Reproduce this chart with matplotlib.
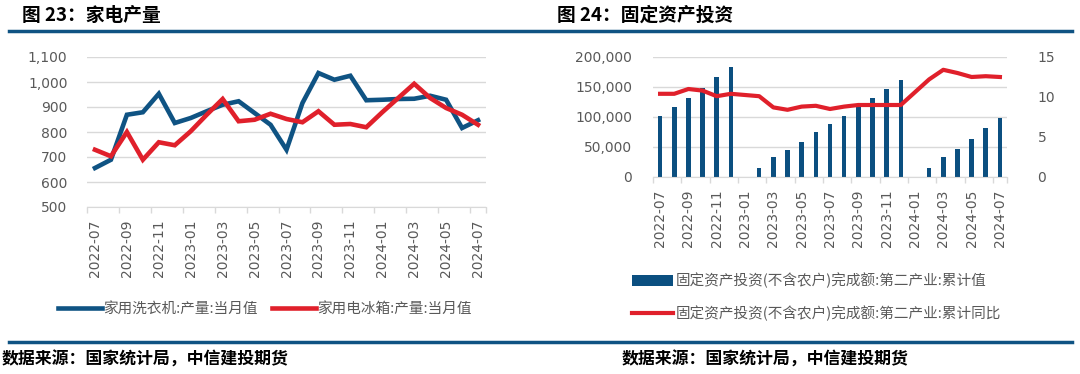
import numpy as np
import matplotlib
matplotlib.use("Agg")
import matplotlib.pyplot as plt
from matplotlib.lines import Line2D
from matplotlib.patches import Patch
from matplotlib.ticker import FuncFormatter, FixedLocator

plt.rcParams["font.family"] = ["Noto Sans CJK SC", "DejaVu Sans"]

months = [
    "2022-07", "2022-08", "2022-09", "2022-10", "2022-11", "2022-12",
    "2023-01", "2023-02", "2023-03", "2023-04", "2023-05", "2023-06",
    "2023-07", "2023-08", "2023-09", "2023-10", "2023-11", "2023-12",
    "2024-01", "2024-02", "2024-03", "2024-04", "2024-05", "2024-06",
    "2024-07",
]

# 家电产量 (万台)
washer = [656, 689, 869, 879, 953, 836, 856, 883, 909, 923, 876, 829,
          729, 916, 1036, 1009, 1025, 927, 929, 932, 933, 945, 929, 816, 847]
fridge = [729, 703, 800, 689, 759, 747, 803, 869, 932, 843, 849, 873,
          852, 839, 883, 829, 832, 819, 879, 936, 993, 936, 896, 869, 829]

# 固定资产投资 第二产业
fai_cum = [101100, 116100, 132200, 148900, 166100, 183900, np.nan, 15600,
           33900, 45000, 57800, 75000, 88900, 102200, 118900, 131700,
           146700, 161700, np.nan, 15600, 32800, 47200, 62800, 82200, 98300]
fai_yoy = [10.4, 10.4, 11.0, 10.8, 10.1, 10.4, np.nan, 10.1, 8.7, 8.4,
           8.8, 8.9, 8.5, 8.8, 9.0, 9.0, 9.0, 9.0, np.nan, 12.2, 13.4,
           13.0, 12.5, 12.6, 12.5]

BLUE = "#0f5383"
RED = "#e0202b"
BAR = "#0b4f80"
GRAY_TXT = "#595959"
GRID = "#d9d9d9"

W, H = 1080, 374
fig = plt.figure(figsize=(W / 100, H / 100), dpi=100)


def box(x0, y0, x1, y1):
    return [x0 / W, 1 - y1 / H, (x1 - x0) / W, (y1 - y0) / H]


def style_cat_axis(ax, n):
    ax.set_xlim(-0.5, n - 0.5)
    ax.set_xticks(range(0, n, 2))
    ax.set_xticklabels(months[::2], rotation=90, fontsize=10,
                       color=GRAY_TXT, family="DejaVu Sans")
    ax.xaxis.set_minor_locator(FixedLocator(list(np.arange(-0.5, n, 2)) + [n - 0.5]))
    ax.tick_params(axis="x", which="major", length=0, pad=9)
    ax.tick_params(axis="x", which="minor", length=4, color=GRID, width=1)
    for s in ["top", "left", "right"]:
        ax.spines[s].set_visible(False)
    ax.spines["bottom"].set_color(GRID)
    ax.grid(axis="y", color=GRID, linewidth=1)
    ax.set_axisbelow(True)


x = np.arange(len(months))
comma = FuncFormatter(lambda v, p: f"{v:,.0f}")

# ── 图23 家电产量 ────────────────────────────────────────────
ax1 = fig.add_axes(box(87, 57, 486, 207))
ax1.plot(x, washer, color=BLUE, lw=3.3, solid_joinstyle="miter", zorder=3)
ax1.plot(x, fridge, color=RED, lw=3.3, solid_joinstyle="miter", zorder=3)
ax1.set_ylim(500, 1100)
ax1.set_yticks(range(500, 1101, 100))
ax1.yaxis.set_major_formatter(comma)
ax1.tick_params(axis="y", length=0, pad=14, labelsize=10, labelcolor=GRAY_TXT)
for lab in ax1.get_yticklabels():
    lab.set_family("DejaVu Sans")
style_cat_axis(ax1, len(months))

fig.legend(
    handles=[Line2D([], [], color=BLUE, lw=3.3),
             Line2D([], [], color=RED, lw=3.3)],
    labels=["家用洗衣机:产量:当月值", "家用电冰箱:产量:当月值"],
    loc="center", bbox_to_anchor=(265 / W, 1 - 309 / H), ncol=2,
    frameon=False, fontsize=10.5, handlelength=3.0, handletextpad=0.1,
    columnspacing=1.0, labelcolor=GRAY_TXT,
)

# ── 图24 固定资产投资 ────────────────────────────────────────
ax2 = fig.add_axes(box(653, 57, 1007, 177))
ax2.bar(x, fai_cum, width=0.32, color=BAR, zorder=2)
ax2.set_ylim(0, 200000)
ax2.set_yticks(range(0, 200001, 50000))
ax2.yaxis.set_major_formatter(comma)
ax2.tick_params(axis="y", length=0, pad=15, labelsize=10, labelcolor=GRAY_TXT)
for lab in ax2.get_yticklabels():
    lab.set_family("DejaVu Sans")
style_cat_axis(ax2, len(months))

ax3 = ax2.twinx()
yoy = np.array(fai_yoy)
ok = ~np.isnan(yoy)
ax3.plot(x[ok], yoy[ok], color=RED, lw=3.0, zorder=4)
ax3.set_ylim(0, 15)
ax3.set_yticks([0, 5, 10, 15])
ax3.tick_params(axis="y", length=0, pad=22, labelsize=10, labelcolor=GRAY_TXT)
for lab in ax3.get_yticklabels():
    lab.set_family("DejaVu Sans")
for s in ax3.spines.values():
    s.set_visible(False)

fig.legend(
    handles=[Patch(facecolor=BAR, edgecolor="none"),
             Line2D([], [], color=RED, lw=3.0)],
    labels=["固定资产投资(不含农户)完成额:第二产业:累计值",
            "固定资产投资(不含农户)完成额:第二产业:累计同比"],
    loc="center left", bbox_to_anchor=(619 / W, 1 - 297 / H), ncol=1,
    frameon=False, fontsize=10.5, handlelength=2.8, handletextpad=0.2,
    labelspacing=1.15, labelcolor=GRAY_TXT,
)

# ── titles, rules, sources ─────────────────────────────────
fig.text(22 / W, 1 - 15 / H, "图 23：家电产量", fontsize=13.5,
         fontweight="bold", va="center", ha="left")
fig.text(557 / W, 1 - 15 / H, "图 24：固定资产投资", fontsize=13.5,
         fontweight="bold", va="center", ha="left")
for yy in (31, 342):
    fig.add_artist(Line2D([9 / W, 1072 / W], [1 - yy / H, 1 - yy / H],
                          color=BLUE, lw=2.5, transform=fig.transFigure))
fig.text(2 / W, 1 - 360 / H, "数据来源：国家统计局，中信建投期货", fontsize=12.2,
         fontweight="bold", va="center", ha="left")
fig.text(622 / W, 1 - 360 / H, "数据来源：国家统计局，中信建投期货", fontsize=12.2,
         fontweight="bold", va="center", ha="left")

fig.savefig("out.png", dpi=100, facecolor="white")
